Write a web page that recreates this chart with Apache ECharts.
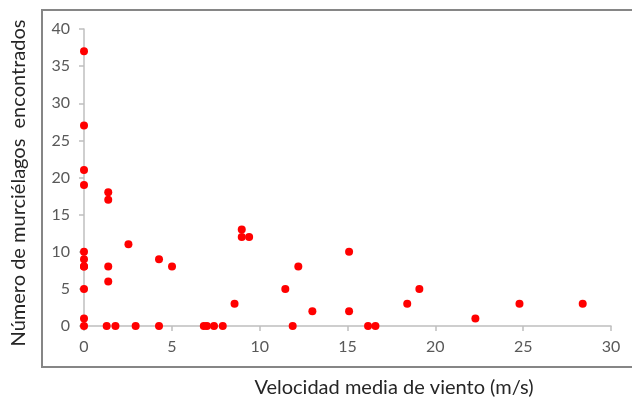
<!DOCTYPE html>
<html>
<head>
<meta charset="utf-8">
<script src="https://cdn.jsdelivr.net/npm/echarts@6/dist/echarts.min.js"></script>
<style>html,body{margin:0;padding:0;background:#fff;}#c{width:632px;height:400px;}</style>
</head>
<body>
<div id="c"></div>
<script>
const xTitle = 'Velocidad media de viento (m/s)';
const yTitle = 'Número de murciélagos  encontrados';
const windSpeed = [0,0,0,0,0,0,0,0,0,0,0,
  1.38,1.38,1.38,1.38,1.29,1.79,2.53,2.94,4.27,4.27,5.01,
  6.82,7.0,7.4,7.9,8.57,8.98,8.98,9.4,11.46,11.88,12.2,13.0,
  15.09,15.09,16.17,16.59,18.4,19.09,22.28,24.79,28.39];
const bats = [37,27,21,19,10,9,8,8,5,1,0,
  18,17,8,6,0,0,11,0,9,0,8,
  0,0,0,0,3,13,12,12,5,0,8,2,
  10,2,0,0,3,5,1,3,3];
const xTicks = [0,5,10,15,20,25,30];
const yTicks = [0,5,10,15,20,25,30,35,40];

const points = windSpeed.map((v,i)=>[v,bats[i]]);
const chart = echarts.init(document.getElementById('c'));
const font = 'Lato, "Open Sans", sans-serif';
chart.setOption({
  animation:false,
  backgroundColor:'#fff',
  grid:{left:84,right:21,top:29,bottom:74},
  xAxis:{type:'value',min:xTicks[0],max:xTicks[xTicks.length-1],interval:5,
    splitLine:{show:false},
    axisLine:{lineStyle:{color:'#bfbfbf',width:1.5}},
    axisTick:{show:true,length:5,lineStyle:{color:'#bfbfbf',width:1.5}},
    axisLabel:{color:'#595959',fontSize:16,fontFamily:font,margin:13}},
  yAxis:{type:'value',min:yTicks[0],max:yTicks[yTicks.length-1],interval:5,
    splitLine:{show:false},
    axisLine:{show:true,lineStyle:{color:'#bfbfbf',width:1.5}},
    axisTick:{show:true,length:5,lineStyle:{color:'#bfbfbf',width:1.5}},
    axisLabel:{color:'#595959',fontSize:16,fontFamily:font,margin:14}},
  graphic:[
    {type:'rect',shape:{x:42,y:10,width:620,height:357},style:{fill:null,stroke:'#868686',lineWidth:2},z:-1},
    {type:'text',position:[394,388],style:{text:xTitle,fill:'#262626',font:'20px '+font,textAlign:'center',textVerticalAlign:'middle'}},
    {type:'text',rotation:Math.PI/2,position:[19,183],style:{text:yTitle,fill:'#262626',font:'20px '+font,textAlign:'center',textVerticalAlign:'middle'}}
  ],
  series:[{type:'scatter',data:points,symbolSize:8,clip:false,itemStyle:{color:'#ff0000',opacity:1}}]
});
</script>
</body>
</html>
